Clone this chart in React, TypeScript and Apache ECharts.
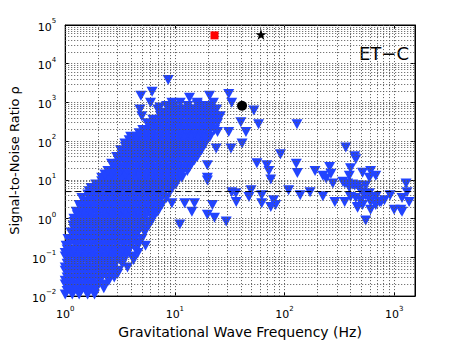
import React, { useEffect, useRef } from "react";
import * as echarts from "echarts";

const X_MIN = 1;
const X_MAX = 1550;
const Y_MIN = 0.01;
const Y_MAX = 1e5;
const threshold = 5;
const FONT = "DejaVu Sans";

// Dense cloud read row by row: [SNR, frequencies (Hz)]
const cloudRows: [number, number[]][] = [
  [0.011, [1.0, 1.16, 1.34, 1.6, 1.85]],
  [0.0135, [1.04, 1.2, 1.39, 1.61, 1.86]],
  [0.016, [1.08, 1.25, 1.44, 1.67, 1.93, 2.25]],
  [0.02, [1.0, 1.11, 1.29, 1.49, 1.72, 1.99, 2.3]],
  [0.025, [1.0, 1.16, 1.34, 1.55, 1.79, 2.07, 2.5]],
  [0.03, [1.04, 1.2, 1.39, 1.61, 1.86, 2.15, 2.48, 2.8]],
  [0.037, [1.08, 1.25, 1.44, 1.67, 1.93, 2.23, 2.6, 3.0]],
  [0.045, [1.0, 1.11, 1.29, 1.49, 1.72, 1.99, 2.3, 2.65, 3.06]],
  [0.055, [1.0, 1.16, 1.34, 1.55, 1.79, 2.07, 2.39, 2.76, 3.7]],
  [0.068, [1.04, 1.2, 1.39, 1.61, 1.86, 2.15, 2.48, 2.86, 3.31]],
  [0.085, [1.08, 1.25, 1.44, 1.67, 1.93, 2.23, 2.57, 2.97, 3.43, 4.2]],
  [0.105, [1.0, 1.11, 1.29, 1.49, 1.72, 1.99, 2.3, 2.65, 3.06, 3.54, 4.1]],
  [0.13, [1.0, 1.16, 1.34, 1.55, 1.79, 2.07, 2.39, 2.76, 3.19, 3.69, 4.6]],
  [0.16, [1.04, 1.2, 1.39, 1.61, 1.86, 2.15, 2.48, 2.86, 3.31, 3.83, 4.42]],
  [0.2, [1.02, 1.25, 1.44, 1.67, 1.93, 2.23, 2.57, 2.97, 3.43, 3.97, 4.6, 5.4]],
  [0.245, [1.11, 1.29, 1.49, 1.72, 1.99, 2.3, 2.65, 3.06, 3.54, 4.1, 4.73]],
  [0.3, [1.06, 1.2, 1.34, 1.55, 1.79, 2.07, 2.39, 2.76, 3.19, 3.69, 4.26, 5.0]],
  [0.365, [1.2, 1.39, 1.61, 1.86, 2.15, 2.48, 2.86, 3.31, 3.83, 4.42]],
  [0.44, [1.13, 1.3, 1.5, 1.67, 1.93, 2.23, 2.57, 2.97, 3.43, 3.97, 4.59, 5.3]],
  [0.54, [1.2, 1.29, 1.49, 1.72, 1.99, 2.3, 2.65, 3.06, 3.54, 4.1, 4.73, 5.47]],
  [0.67, [1.18, 1.34, 1.55, 1.79, 2.07, 2.39, 2.76, 3.19, 3.69, 4.26, 4.93, 5.8]],
  [0.82, [1.2, 1.39, 1.61, 1.86, 2.15, 2.48, 2.86, 3.31, 3.83, 4.42, 5.1, 5.9]],
  [1.0, [1.2, 1.44, 1.67, 1.93, 2.23, 2.57, 2.97, 3.43, 3.97, 4.59, 5.3, 6.3]],
  [1.22, [1.29, 1.49, 1.72, 1.99, 2.3, 2.65, 3.06, 3.54, 4.1, 4.73, 5.47, 6.3]],
  [1.5, [1.26, 1.45, 1.68, 1.95, 2.25, 2.6, 3.0, 3.5, 4.0, 4.6, 5.3, 6.1, 7.0]],
  [1.84, [1.39, 1.61, 1.86, 2.15, 2.48, 2.86, 3.31, 3.83, 4.42, 5.1, 5.9, 6.8]],
  [2.25, [1.34, 1.55, 1.79, 2.07, 2.39, 2.76, 3.19, 3.69, 4.26, 4.93, 5.7, 6.6, 7.6]],
  [2.77, [1.49, 1.72, 1.99, 2.3, 2.65, 3.06, 3.54, 4.1, 4.73, 5.47, 6.3, 7.3]],
  [3.4, [1.42, 1.67, 1.93, 2.23, 2.57, 2.97, 3.43, 3.97, 4.59, 5.3, 6.1, 7.1, 8.4]],
  [4.2, [1.61, 1.86, 2.15, 2.48, 2.86, 3.31, 3.83, 4.42, 5.1, 5.9, 6.8, 7.9]],
  [5.1, [1.65, 1.9, 2.15, 2.5, 2.85, 3.3, 3.8, 4.4, 5.0, 5.8, 6.7, 7.7, 9.0]],
  [6.2, [1.72, 1.99, 2.3, 2.65, 3.06, 3.54, 4.1, 4.73, 5.47, 6.3, 7.3, 8.4, 9.5]],
  [7.6, [1.9, 2.2, 2.5, 2.9, 3.3, 3.8, 4.4, 5.1, 5.9, 6.8, 7.8, 9.0, 10.2]],
  [9.3, [2.15, 2.48, 2.86, 3.31, 3.83, 4.42, 5.1, 5.9, 6.8, 7.9, 9.1, 10.4]],
  [11.4, [2.15, 2.5, 2.85, 3.3, 3.8, 4.4, 5.1, 5.9, 6.8, 7.8, 9.0, 10.4, 11.6]],
  [13.9, [2.3, 2.65, 3.06, 3.54, 4.1, 4.73, 5.47, 6.3, 7.3, 8.4, 9.8, 11.3]],
  [17, [2.45, 2.8, 3.2, 3.7, 4.3, 4.9, 5.7, 6.6, 7.6, 8.8, 10.2, 11.8, 13.0]],
  [21, [2.86, 3.31, 3.83, 4.42, 5.1, 5.9, 6.8, 7.9, 9.1, 10.6, 12.2, 13.6]],
  [26, [2.65, 3.05, 3.5, 4.0, 4.6, 5.3, 6.1, 7.1, 8.2, 9.5, 10.9, 12.6, 14.2]],
  [32, [3.06, 3.54, 4.1, 4.73, 5.47, 6.3, 7.3, 8.4, 9.8, 11.3, 13.1, 15.1]],
  [39, [2.95, 3.4, 3.9, 4.5, 5.2, 6.0, 6.9, 8.0, 9.2, 10.6, 12.2, 14.1, 16.0]],
  [47, [3.31, 3.83, 4.42, 5.1, 5.9, 6.8, 7.9, 9.1, 10.6, 12.2, 14.1, 16.3]],
  [58, [3.2, 3.7, 4.3, 4.9, 5.7, 6.6, 7.6, 8.8, 10.2, 11.7, 13.5, 15.6, 17.5]],
  [71, [3.54, 4.1, 4.73, 5.47, 6.3, 7.3, 8.4, 9.8, 11.3, 13.1, 15.1, 17.4]],
  [87, [3.5, 4.0, 4.6, 5.3, 6.1, 7.1, 8.2, 9.5, 10.9, 12.6, 14.6, 16.9, 19.0]],
  [106, [3.83, 4.42, 5.1, 5.9, 6.8, 7.9, 9.1, 10.6, 12.2, 14.1, 16.3, 18.9]],
  [130, [3.95, 4.5, 5.2, 6.0, 6.9, 8.0, 9.2, 10.6, 12.2, 14.1, 16.3, 18.8, 21]],
  [160, [4.73, 5.47, 6.3, 7.3, 8.4, 9.8, 11.3, 13.1, 15.1, 17.4, 20.2]],
  [195, [5.1, 5.5, 6.4, 7.4, 8.5, 9.8, 11.3, 13.1, 15.1, 17.4, 20, 23]],
  [238, [5.9, 6.8, 7.9, 9.1, 10.6, 12.2, 14.1, 16.3, 18.9, 21.8]],
  [290, [5.6, 6.8, 7.9, 9.1, 10.5, 12.1, 14.0, 16.2, 18.7, 21.5, 24.5]],
  [357, [6.3, 7.3, 8.4, 9.8, 11.3, 13.1, 15.1, 17.4, 20.2, 23.3]],
  [440, [5.0, 7.4, 8.5, 9.8, 11.3, 13.1, 15.1, 17.4, 20, 23, 26]],
  [540, [7.9, 9.1, 10.6, 12.2, 14.1, 16.3, 18.9, 21.8]],
  [660, [4.8, 7.0, 8.8, 10.1, 11.7, 13.5, 15.6, 18, 20.8, 24]],
  [810, [8.4, 9.8, 13.1, 17.4, 20.2]],
  [990, [6.0, 9.4, 11.2, 16, 22.5]],
];

// Scattered events: [frequency (Hz), SNR]
const sparse: [number, number][] = [
  [4.9, 1490], [6.2, 1900], [8.7, 3800], [13.6, 1320], [20.7, 1490], [31, 1650],
  [16, 880], [33, 990], [7.3, 740], [52.6, 620], [40, 310], [58, 275], [44.5, 173],
  [130, 275], [31, 173], [32.5, 65], [41, 87], [23.8, 65], [24.5, 173], [15.8, 61],
  [362, 69], [437, 41], [447, 34], [92, 46], [56, 27], [69, 24], [72, 17], [128, 26],
  [131, 15], [190, 17], [258, 21.6], [265, 14.4], [224, 12.8], [240, 10.8], [276, 8.1],
  [400, 20], [390, 12.8], [515, 15.3], [610, 17], [595, 11.4], [680, 12.8], [75, 10.2],
  [340, 9.0], [377, 8.1], [418, 7.6], [464, 7.2], [550, 7.2], [1285, 8.1], [19.8, 9.6],
  [19.8, 24], [19.8, 11.4], [33, 4.8], [49.5, 5.4], [47.4, 3.6], [36.3, 2.7], [62, 2.5],
  [79.6, 3.0], [109, 5.4], [139, 4.0], [171, 4.8], [288, 2.7], [354, 2.7], [464, 2.0],
  [595, 3.4], [680, 2.25], [815, 3.0], [920, 4.0], [1000, 1.69], [1180, 1.5], [1180, 3.4],
  [1370, 2.7], [1310, 4.8], [22, 2.25], [75, 2.0], [550, 0.89], [610, 1.69], [1150, 1.69],
  [735, 2.7], [224, 3.8], [62, 4.0], [36, 4.5], [83, 2.25], [19.8, 1.26], [23, 1.06],
  [29.4, 0.84], [11.1, 0.71], [14.3, 1.5], [12.3, 2.5], [9.4, 2.5], [15.1, 2.5],
  [355, 8.1], [390, 6.4], [437, 7.2], [485, 6.0], [515, 4.8], [595, 4.5], [400, 3.6],
  [447, 3.4], [500, 3.0], [550, 4.0], [610, 2.7], [680, 3.6], [464, 1.9], [515, 2.25],
  [760, 2.7],
];

const redSquare: [number, number][] = [[23, 54000]];
const blackStar: [number, number][] = [[61, 57000]];
const blackCircle: [number, number][] = [[41, 820]];

const xDecades = [0, 1, 2, 3];
const yDecades = [-2, -1, 0, 1, 2, 3, 4];

const STAR =
  "path://M12,0 L14.8,8.6 L23.4,8.6 L16.5,13.9 L19.1,22.5 L12,17.2 L4.9,22.5 L7.5,13.9 L0.6,8.6 L9.2,8.6 Z";

function supLabel(v: number): string {
  const l = Math.log10(v);
  const e = Math.round(l);
  if (Math.abs(l - e) > 1e-6) return "";
  return `{b|10}{s|${e < 0 ? "\u2212" + -e : e}}`;
}

export default function App() {
  const ref = useRef<HTMLDivElement>(null);
  useEffect(() => {
    const chart = echarts.init(ref.current!, undefined, { renderer: "svg" });

    const cloud: [number, number][] = [];
    cloudRows.forEach(([snr, fs]) => fs.forEach((f) => cloud.push([f, snr])));

    const gridLines: any[] = [];
    xDecades.forEach((d) => {
      for (let k = 1; k <= 9; k++) {
        const v = k * Math.pow(10, d);
        if (v > X_MIN && v < X_MAX) gridLines.push({ xAxis: v });
      }
    });
    yDecades.forEach((d) => {
      for (let k = 1; k <= 9; k++) {
        const v = k * Math.pow(10, d);
        if (v > Y_MIN && v < Y_MAX) gridLines.push({ yAxis: v });
      }
    });

    const rich = {
      b: { fontSize: 11, fontFamily: FONT, color: "#000", lineHeight: 15, verticalAlign: "bottom" },
      s: { fontSize: 7, fontFamily: FONT, color: "#000", lineHeight: 8, verticalAlign: "top" },
    };

    const axisCommon = {
      type: "log",
      logBase: 10,
      axisLine: { show: true, lineStyle: { color: "#000", width: 1 } },
      axisTick: { show: true, inside: true, length: 4, lineStyle: { color: "#000" } },
      splitLine: { show: false },
    };

    const option: any = {
      animation: false,
      backgroundColor: "#fff",
      grid: { left: 59, top: 25, right: 43, bottom: 41, show: true, borderColor: "#000", borderWidth: 1 },
      xAxis: [
        {
          ...axisCommon,
          position: "bottom",
          min: X_MIN,
          max: X_MAX,
          axisLabel: { formatter: supLabel, rich, margin: 9 },
          name: "Gravitational Wave Frequency (Hz)",
          nameLocation: "middle",
          nameGap: 27,
          nameTextStyle: { fontFamily: FONT, fontSize: 14, color: "#000" },
        },
        {
          ...axisCommon,
          position: "top",
          min: X_MIN,
          max: X_MAX,
          axisLabel: { show: false },
        },
      ],
      yAxis: [
        {
          ...axisCommon,
          position: "left",
          min: Y_MIN,
          max: Y_MAX,
          axisLabel: { formatter: supLabel, rich, margin: 9 },
          name: "Signal-to-Noise Ratio \u03c1",
          nameLocation: "middle",
          nameGap: 31,
          nameRotate: 90,
          nameTextStyle: { fontFamily: FONT, fontSize: 13, color: "#000" },
        },
        {
          ...axisCommon,
          position: "right",
          min: Y_MIN,
          max: Y_MAX,
          axisLabel: { show: false },
        },
      ],
      graphic: [
        {
          type: "text",
          right: 49,
          top: 44,
          style: { text: "ET\u2212C", font: `18px "${FONT}"`, fill: "#000" },
        },
      ],
      series: [
        {
          type: "line",
          z: 1,
          data: [[X_MIN, Y_MIN]],
          symbol: "none",
          lineStyle: { opacity: 0 },
          silent: true,
          markLine: {
            silent: true,
            symbol: ["none", "none"],
            label: { show: false },
            lineStyle: { type: [1, 2], color: "#555", width: 1 },
            data: gridLines,
          },
        },
        {
          type: "scatter",
          z: 3,
          data: [...cloud, ...sparse],
          symbol: "triangle",
          symbolRotate: 180,
          symbolSize: [11, 10],
          itemStyle: { color: "#2244ff", opacity: 1 },
        },
        {
          type: "line",
          z: 5,
          data: [[X_MIN, threshold], [X_MAX, threshold]],
          symbol: "none",
          lineStyle: { type: [6, 4], color: "#000", width: 1 },
          silent: true,
        },
        {
          type: "scatter",
          z: 6,
          data: redSquare,
          symbol: "rect",
          symbolSize: 8,
          itemStyle: { color: "#ff0000", opacity: 1 },
        },
        {
          type: "scatter",
          z: 6,
          data: blackStar,
          symbol: STAR,
          symbolSize: 11,
          itemStyle: { color: "#000", opacity: 1 },
        },
        {
          type: "scatter",
          z: 6,
          data: blackCircle,
          symbol: "circle",
          symbolSize: 10,
          itemStyle: { color: "#000", opacity: 1 },
        },
      ],
    };

    chart.setOption(option);
    return () => chart.dispose();
  }, []);

  return (
    <div
      ref={ref}
      style={{ position: "fixed", left: 0, top: 0, width: 458, height: 344, background: "#fff" }}
    />
  );
}
